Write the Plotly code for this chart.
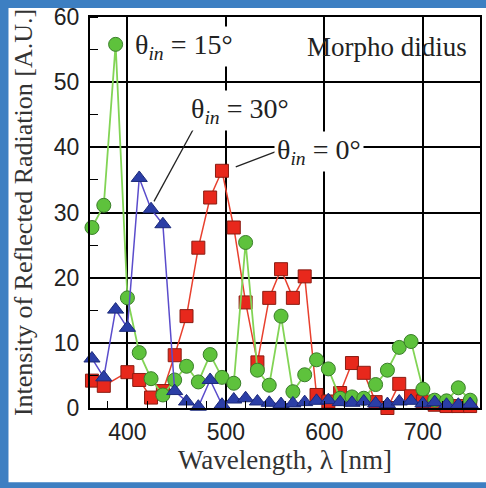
import plotly.graph_objects as go

wavelength = [364, 376, 388, 400, 412, 424, 436, 448, 460, 472, 484, 496, 508, 520, 532, 544, 556,
              568, 580, 592, 604, 616, 628, 640, 652, 664, 676, 688, 700, 712, 724, 736, 748]
theta_0 = [4.2, 3.4, None, 5.5, 4.3, 1.6, 2.6, 8.1, 14.1, 24.6, 32.3, 36.4, 27.7, 16.2, 7.0, 16.9, 21.3,
           16.9, 20.2, 2.0, 1.0, 2.3, 6.9, 5.4, 0.9, 0.0, 3.7, 1.8, 1.0, 0.5, 0.3, 0.3, 0.3]
theta_15 = [27.7, 31.1, 55.8, 16.9, 8.5, 4.5, 2.0, 4.3, 6.4, 4.0, 8.2, 4.7, 3.8, 25.4, 5.8, 3.5, 14.1,
            2.5, 5.1, 7.4, 6.0, 1.5, 1.7, 1.5, 3.6, 5.8, 9.3, 10.2, 2.9, 1.2, 1.1, 3.1, 1.2]
theta_30 = [7.6, 4.7, 15.1, 12.3, 35.3, 30.5, 28.2, 2.6, 1.0, 0.2, 4.3, 0.5, 1.3, 1.5, 1.0, 0.8, 0.6,
            0.7, 0.9, 1.1, 1.2, 0.9, 0.8, 1.0, 0.7, 0.6, 1.0, 1.1, 0.7, 0.9, 0.5, 0.5, 0.6]

x_ticks = [400, 500, 600, 700]
y_ticks = [0, 10, 20, 30, 40, 50, 60]

SERIF = "Liberation Serif, Times New Roman, serif"
SANS = "Liberation Sans, Arial, sans-serif"

fig = go.Figure()
fig.add_trace(go.Scatter(
    x=wavelength, y=theta_0, mode="lines+markers", connectgaps=True, cliponaxis=False,
    line=dict(color="#e8402e", width=1.5),
    marker=dict(symbol="square", size=13, color="#e8281c", line=dict(color="#8a1c12", width=1)),
    showlegend=False))
fig.add_trace(go.Scatter(
    x=wavelength, y=theta_15, mode="lines+markers", cliponaxis=False,
    line=dict(color="#82d455", width=1.8),
    marker=dict(symbol="circle", size=14, color="#5ec23c", line=dict(color="#3a7e2a", width=1)),
    showlegend=False))
fig.add_trace(go.Scatter(
    x=wavelength, y=theta_30, mode="lines+markers", cliponaxis=False,
    line=dict(color="#5a4ccc", width=1.5),
    marker=dict(symbol="triangle-up", size=14, color="#2b3ea6", line=dict(color="#1c2a7a", width=1)),
    showlegend=False))

label_font = dict(family=SERIF, size=28, color="#222")
fig.add_annotation(x=457, y=55.4, xref="x", yref="y", showarrow=False,
                   text="θ<sub><i>in</i></sub> = 15°", font=label_font,
                   bgcolor="white", borderpad=2)
fig.add_annotation(x=514, y=45.6, xref="x", yref="y", showarrow=False,
                   text="θ<sub><i>in</i></sub> = 30°", font=label_font,
                   bgcolor="white", borderpad=2)
fig.add_annotation(x=595, y=39.4, xref="x", yref="y", showarrow=False,
                   text="θ<sub><i>in</i></sub> = 0°", font=label_font,
                   bgcolor="white", borderpad=2)
fig.add_annotation(x=664, y=55.4, xref="x", yref="y", showarrow=False,
                   text="Morpho didius", font=dict(family=SERIF, size=27, color="#222"))

# leader lines
fig.add_shape(type="line", xref="x", yref="y", x0=469.5, y0=43.5, x1=427, y1=31.7,
              line=dict(color="#222", width=1.3))
fig.add_shape(type="line", xref="x", yref="y", x0=550, y0=39.3, x1=510, y1=37.0,
              line=dict(color="#222", width=1.3))

# slide-like background frame
fig.add_shape(type="rect", xref="paper", yref="paper", x0=-0.209, x1=1.02, y0=-0.19, y1=1.0228,
              fillcolor="white", line=dict(width=0), layer="below")

fig.update_xaxes(range=[362, 758], tickvals=x_ticks, showgrid=True, gridcolor="black", gridwidth=1.5,
                 showline=True, linecolor="black", linewidth=2, mirror=True, zeroline=False,
                 ticks="", ticklabelstandoff=2,
                 minor=dict(dtick=20, tick0=360, ticks="inside", ticklen=7, tickcolor="black",
                            tickwidth=1.2, showgrid=False),
                 tickfont=dict(family=SANS, size=23, color="#222"),
                 title=dict(text="Wavelength, λ [nm]", font=dict(family=SERIF, size=27, color="#333"),
                            standoff=4))
fig.update_yaxes(range=[0, 60], tickvals=y_ticks, showgrid=True, gridcolor="black", gridwidth=1.5,
                 showline=True, linecolor="black", linewidth=2, mirror=True, zeroline=False,
                 ticks="", ticklabelstandoff=4,
                 minor=dict(dtick=5, ticks="inside", ticklen=8, tickcolor="black",
                            tickwidth=1.2, showgrid=False),
                 tickfont=dict(family=SANS, size=23, color="#222"),
                 title=dict(text="Intensity of Reflected Radiation [A.U.]",
                            font=dict(family=SERIF, size=26, color="#333"), standoff=14))

fig.update_layout(width=486, height=488, margin=dict(l=90, r=4, t=14, b=80),
                  paper_bgcolor="#3d7fc2", plot_bgcolor="white")

fig.write_html("out.html", config={"displayModeBar": False},
               post_script="document.body.style.margin='0';document.body.style.background='#3d7fc2';")
